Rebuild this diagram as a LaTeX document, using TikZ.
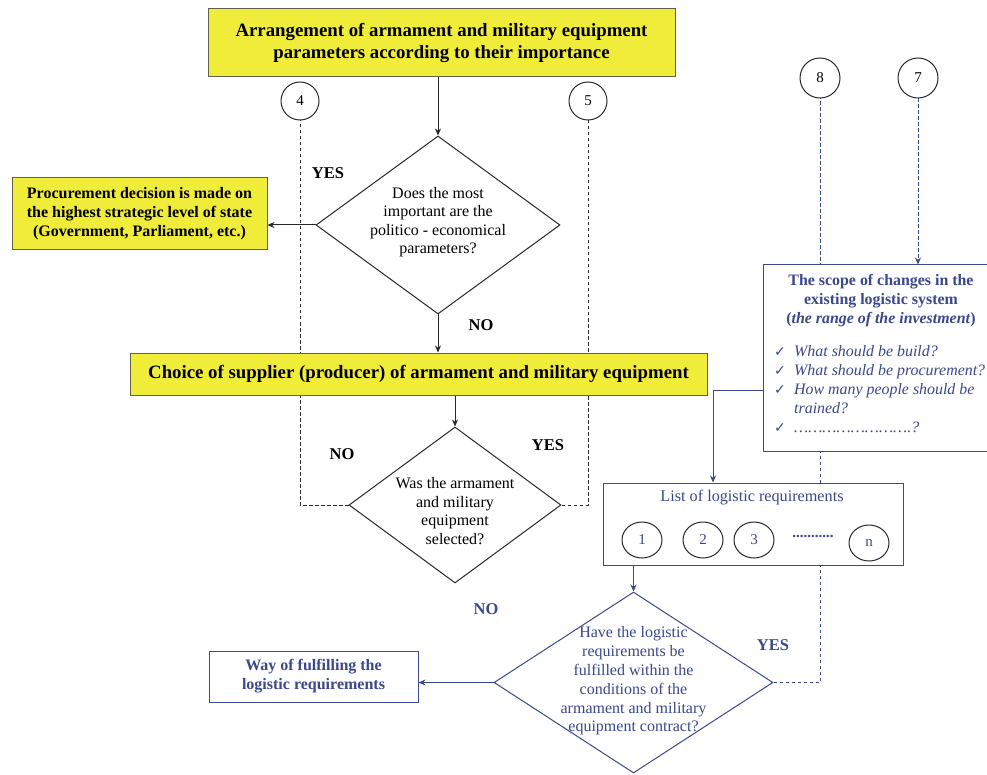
\documentclass[tikz,border=0pt]{standalone}
\usepackage{fontspec}
\setmainfont{Liberation Serif}
\newfontfamily\symfont{DejaVu Sans}
\usetikzlibrary{shapes.geometric,arrows.meta}
\definecolor{ylw}{RGB}{240,236,58}
\definecolor{ybrd}{RGB}{100,98,70}
\definecolor{dblue}{RGB}{58,72,140}
\definecolor{dgray}{RGB}{40,40,40}
\begin{document}
\begin{tikzpicture}[x=1pt,y=-1pt,
  ybox/.style={draw=ybrd, fill=ylw, line width=1pt, inner sep=0pt, align=center, text=black},
  bbox/.style={draw=dblue, fill=white, line width=1pt, inner sep=0pt, align=center, text=dblue},
  dia/.style={diamond, draw=dgray, fill=white, line width=1pt, inner sep=0pt},
  bdia/.style={diamond, draw=dblue, fill=white, line width=1pt, inner sep=0pt},
  dtext/.style={align=center, inner sep=0pt, font=\fontsize{16}{18.5}\selectfont},
  circ/.style={circle, draw=dgray, fill=white, line width=1pt, minimum size=38pt, inner sep=0pt, font=\fontsize{15}{18}\selectfont},
  ell/.style={ellipse, draw=dgray, fill=white, line width=1pt, minimum width=40pt, minimum height=36pt, inner sep=0pt, text=dblue, font=\fontsize{15}{18}\selectfont},
  arr/.style={-{Stealth[length=7pt,width=6pt]}, line width=1pt, draw=dgray},
  barr/.style={-{Stealth[length=7pt,width=6pt]}, line width=1pt, draw=dblue},
  dsh/.style={dash pattern=on 3.5pt off 2.5pt, line width=1pt},
  lbl/.style={inner sep=0pt, font=\fontsize{16.5}{19}\selectfont\bfseries}
]
\useasboundingbox (0,0) rectangle (987,775);
\fill[white] (0,0) rectangle (987,775);

% ---------- nodes (left / black part) ----------
\node[circ] (c4) at (300,101) {4};
\node[circ] (c5) at (588,101) {5};
\node[dia, minimum width=244pt, minimum height=178pt] (d1) at (438,225) {};
\node[dia, minimum width=212pt, minimum height=156pt] (d2) at (455,505) {};

% ---------- nodes (right / blue part) ----------
\node[circ, minimum size=40pt] (c8) at (820,78) {8};
\node[circ, minimum size=40pt] (c7) at (918,78) {7};
\node[bdia, minimum width=279pt, minimum height=181pt] (d3) at (633.5,682.5) {};

% ---------- dashed connectors (behind boxes) ----------
\draw[dsh, draw=dgray] (d2.west) -| (c4.south);
\draw[dsh, draw=dgray] (d2.east) -| (c5.south);
\draw[dsh, draw=dblue] (d3.east) -| (c8.south);

% ---------- boxes ----------
\node[ybox, minimum width=467pt, minimum height=68pt, font=\fontsize{18.8}{22}\selectfont\bfseries] (title) at (441.5,43)
  {Arrangement of armament and military equipment\\parameters according to their importance};
\node[ybox, minimum width=255pt, minimum height=72pt, font=\fontsize{16}{19}\selectfont\bfseries] (proc) at (139.5,214)
  {Procurement decision is made on\\the highest strategic level of state\\(Government, Parliament, etc.)};
\node[ybox, minimum width=577pt, minimum height=42pt, font=\fontsize{18.8}{22}\selectfont\bfseries] (choice) at (418.5,374)
  {\raisebox{2.5pt}{Choice of supplier (producer) of armament and military equipment}};

\node[bbox, minimum width=227pt, minimum height=186pt] (scope) at (876.5,358) {};
\node[bbox, minimum width=300pt, minimum height=82pt] (list) at (753,524) {};
\node[bbox, minimum width=209pt, minimum height=51pt, font=\fontsize{16}{19}\selectfont\bfseries] (way) at (313.5,676.5)
  {Way of fulfilling the\\logistic requirements};

% ---------- texts ----------
\node[dtext] (d1t) at (438,222) {Does the most\\important are the\\politico - economical\\parameters?};
\node[dtext] (d2t) at (455,511) {Was the armament\\and military\\equipment\\selected?};
\node[dtext, text=dblue, font=\fontsize{16}{18.8}\selectfont] (d3t) at (633.5,681)
  {Have the logistic\\requirements be\\fulfilled within the\\conditions of the\\armament and military\\equipment contract?};

\node[lbl] (yes1) at (328,173) {YES};
\node[lbl] (no1) at (481,325) {NO};
\node[lbl] (no2) at (342,454) {NO};
\node[lbl] (yes2) at (548,445) {YES};
\node[lbl, text=dblue] (no3) at (486,609) {NO};
\node[lbl, text=dblue] (yes3) at (773,645) {YES};

\node[inner sep=0pt, align=center, text=dblue, font=\fontsize{15.9}{19}\selectfont\bfseries] (scopet) at (881,301)
  {The scope of changes in the\\existing logistic system\\(\textit{the range of the investment})};
\node[inner sep=0pt, anchor=north west, text=dblue, font=\fontsize{15.9}{19}\selectfont\itshape] (items) at (774,343.3)
  {\begin{tabular}{@{}l@{}l@{}}
   \makebox[20pt][l]{\symfont\fontsize{14}{19}\selectfont ✓} & What should be build?\\
   \makebox[20pt][l]{\symfont\fontsize{14}{19}\selectfont ✓} & What should be procurement?\\
   \makebox[20pt][l]{\symfont\fontsize{14}{19}\selectfont ✓} & How many people should be\\
   & trained?\\
   \makebox[20pt][l]{\symfont\fontsize{14}{19}\selectfont ✓} & …………………….?
   \end{tabular}};

\node[inner sep=0pt, text=dblue, font=\fontsize{16.2}{19}\selectfont] (listt) at (752,498) {List of logistic requirements};
\node[ell] (e1) at (642,540) {1};
\node[ell] (e2) at (703,540) {2};
\node[ell] (e3) at (754,540) {3};
\node[ell] (en) at (869,543) {n};
\node[inner sep=0pt, text=dblue, font=\fontsize{15}{18}\selectfont\bfseries] (dots) at (813,536) {...........};

% ---------- solid connectors ----------
\draw[arr] (title.south -| d1.north) -- (d1.north);
\draw[arr] (d1.west) -- (d1.west -| proc.east);
\draw[arr] (d1.south) -- (choice.north -| d1.south);
\draw[arr] (choice.south -| d2.north) -- (d2.north);

\draw[barr] (scope.west |- 0,390) -| (list.north -| 713,0);
\draw[barr] (list.south -| d3.north) -- (d3.north);
\draw[barr] (d3.west) -- (d3.west -| way.east);
\draw[barr, dsh] (c7.south) -- (c7.south |- scope.north);
\end{tikzpicture}
\end{document}
